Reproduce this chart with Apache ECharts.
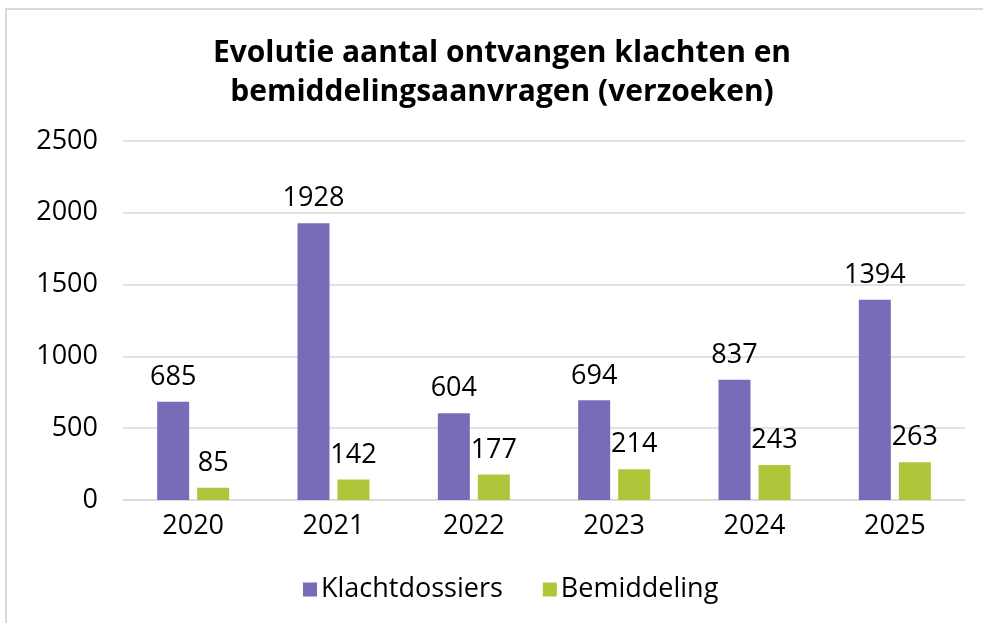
<!DOCTYPE html>
<html><head><meta charset="utf-8">
<script src="https://cdn.jsdelivr.net/npm/echarts@6/dist/echarts.min.js"></script>
<style>
html,body{margin:0;padding:0;background:#fff;}
#frame{position:absolute;left:5px;top:8px;width:990px;height:630px;border-left:2px solid #d9d9d9;border-top:2px solid #d9d9d9;box-sizing:border-box;}
#c{position:absolute;left:0;top:0;width:983px;height:623px;}
</style></head><body>
<div id="frame"></div>
<div id="c"></div>
<script>
const categories = ['2020','2021','2022','2023','2024','2025'];
const klachtdossiers = [685,1928,604,694,837,1394];
const bemiddeling = [85,142,177,214,243,263];
const yTicks = [0,500,1000,1500,2000,2500];

const chart = echarts.init(document.getElementById('c'));
const font = '"Open Sans", sans-serif';
chart.setOption({
  animation:false,
  title:{
    text:'Evolutie aantal ontvangen klachten en\nbemiddelingsaanvragen (verzoeken)',
    left:497, top:29, textAlign:'center',
    textStyle:{fontFamily:font,fontWeight:'bold',fontSize:30,lineHeight:39,color:'#000'}
  },
  legend:{
    bottom:15, left:298, itemWidth:14, itemHeight:14, itemGap:40,
    icon:'rect',
    textStyle:{fontFamily:font,fontSize:27,color:'#000',padding:[0,0,0,-1]},
    data:['Klachtdossiers','Bemiddeling']
  },
  grid:{left:123,right:18,top:141,bottom:123,containLabel:false},
  xAxis:{
    type:'category', data:categories,
    axisLine:{lineStyle:{color:'#d9d9d9',width:1.5}},
    axisTick:{show:false},
    axisLabel:{fontFamily:font,fontSize:27,color:'#000',margin:13}
  },
  yAxis:{
    type:'value', min:yTicks[0], max:yTicks[yTicks.length-1], interval:500,
    axisLine:{show:false}, axisTick:{show:false},
    splitLine:{lineStyle:{color:'#d9d9d9',width:1.5}},
    axisLabel:{fontFamily:font,fontSize:27,color:'#000',margin:25,formatter:v=>String(v)}
  },
  series:[
    {name:'Klachtdossiers',type:'bar',data:klachtdossiers,barWidth:32,barGap:'25%',
     itemStyle:{color:'#7a6bb9'},
     label:{show:true,position:'top',distance:11,fontFamily:font,fontSize:27,color:'#000'}},
    {name:'Bemiddeling',type:'bar',data:bemiddeling,barWidth:32,
     itemStyle:{color:'#b1c53a'},
     label:{show:true,position:'top',distance:11,fontFamily:font,fontSize:27,color:'#000'}}
  ]
});
</script>
</body></html>
